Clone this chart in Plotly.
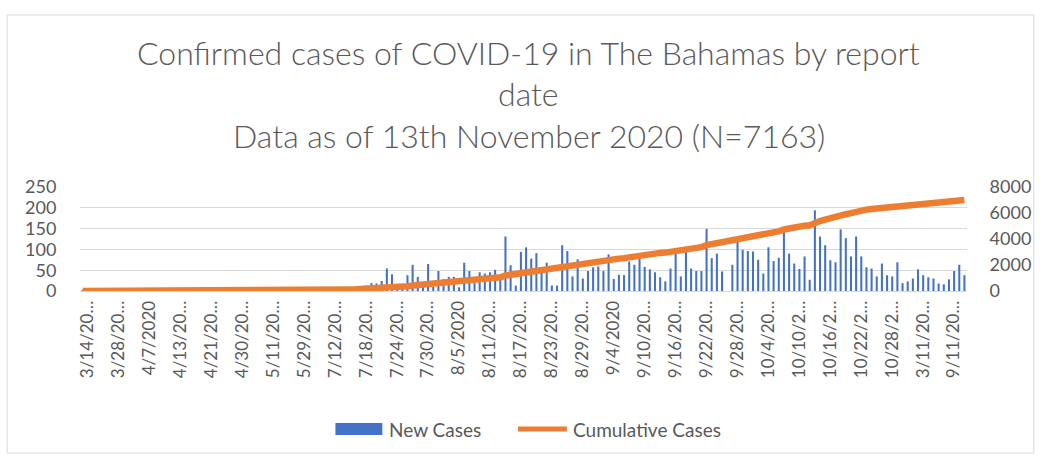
import plotly.graph_objects as go
import pandas as pd
from itertools import accumulate

# ---------------- data ----------------
early_dates = [
    "3/14/2020", "3/15/2020", "3/16/2020", "3/19/2020", "3/20/2020", "3/24/2020",
    "3/28/2020", "3/29/2020", "3/30/2020", "4/1/2020", "4/3/2020", "4/5/2020",
    "4/7/2020", "4/8/2020", "4/9/2020", "4/10/2020", "4/11/2020", "4/12/2020",
    "4/13/2020", "4/14/2020", "4/15/2020", "4/17/2020", "4/18/2020", "4/19/2020",
    "4/21/2020", "4/22/2020", "4/24/2020", "4/25/2020", "4/27/2020", "4/28/2020",
    "4/30/2020", "5/1/2020", "5/3/2020", "5/5/2020", "5/7/2020", "5/9/2020",
    "5/11/2020", "5/14/2020", "5/17/2020", "5/20/2020", "5/23/2020", "5/26/2020",
    "5/29/2020", "6/3/2020", "6/9/2020", "6/16/2020", "6/24/2020", "7/5/2020",
]
daily_dates = [f"{d.month}/{d.day}/{d.year}" for d in pd.date_range("2020-07-12", "2020-10-31")]
november_dates = [f"{d}/11/2020" for d in range(1, 13)]
report_dates = early_dates + daily_dates + november_dates

new_cases = [
    # 3/14 - 7/5
    1, 0, 2, 1, 1, 2, 3, 2, 5, 1, 4, 2, 4, 5, 4, 1, 4, 5, 3, 3, 2, 4, 3, 2,
    1, 4, 2, 1, 3, 2, 1, 2, 0, 1, 1, 0, 1, 1, 0, 1, 2, 1, 1, 1, 1, 2, 1, 3,
    # 7/12 - 7/18
    4, 3, 6, 5, 8, 10, 12,
    # 7/19 - 8/9
    13, 19, 18, 24, 54, 40, 5, 8, 38, 63, 34, 22, 65, 10, 48, 29, 34, 34, 9, 68, 48, 19,
    # 8/10 - 9/1
    45, 42, 45, 51, 28, 131, 62, 13, 94, 105, 78, 91, 50, 68, 13, 13, 110, 96, 35, 76, 30, 48, 57,
    # 9/2 - 9/25
    59, 48, 88, 29, 39, 38, 71, 63, 80, 58, 52, 45, 33, 23, 54, 89, 35, 95, 54, 48, 48, 149, 79, 90,
    # 9/26 - 11/12
    47, 0, 63, 119, 99, 96, 95, 75, 42, 105, 72, 80, 146, 90, 66, 53, 83, 27, 194, 131,
    110, 74, 69, 148, 127, 83, 131, 83, 57, 54, 35, 66, 38, 35, 69, 19, 23, 30, 52, 38,
    33, 30, 18, 16, 28, 48, 63, 38,
]
cumulative_cases = list(accumulate(new_cases))

title_lines = [
    "Confirmed cases of COVID-19 in The Bahamas by report",
    "date",
    "Data as of 13th November 2020 (N=7163)",
]
series_names = ["New Cases", "Cumulative Cases"]

left_ticks = [0, 50, 100, 150, 200, 250]
right_ticks = [0, 2000, 4000, 6000, 8000]


def short_label(s):
    return s if len(s) <= 8 else s[:7] + "\u2026"


# report dates are text categories (some repeat as strings), so place them by position
positions = list(range(len(report_dates)))
tick_pos = positions[::6]
tick_text = [short_label(report_dates[i]) for i in tick_pos]

# ---------------- style ----------------
FONT = "Lato"
GREY = "#595959"
BLUE = "#4472C4"
ORANGE = "#ED7D31"
GRID = "#D9D9D9"

W, H = 1043, 460
PL, PR, PT, PB = 80, 969, 187, 291  # plot area in pixels


def px(x):
    return (x - PL) / (PR - PL)


def py(y):
    return (PB - y) / (PB - PT)


fig = go.Figure()
fig.add_trace(go.Bar(
    x=positions, y=new_cases, name=series_names[0], customdata=report_dates,
    marker=dict(color=BLUE, line=dict(width=0)), yaxis="y",
    hovertemplate="%{customdata}: %{y}<extra></extra>",
))
fig.add_trace(go.Scatter(
    x=positions, y=cumulative_cases, name=series_names[1], mode="lines", customdata=report_dates,
    line=dict(color=ORANGE, width=6.5), yaxis="y2",
    hovertemplate="%{customdata}: %{y}<extra></extra>",
))

annotations = []
for txt, yc in zip(title_lines, [52, 93, 135]):
    annotations.append(dict(
        text=txt, xref="paper", yref="paper", x=px(530), y=py(yc),
        xanchor="center", yanchor="middle", showarrow=False,
        font=dict(family=FONT, size=32, color=GREY, weight=300),
    ))
# legend
annotations.append(dict(text=series_names[0], xref="paper", yref="paper", x=px(388), y=py(429),
                        xanchor="left", yanchor="middle", showarrow=False,
                        font=dict(family=FONT, size=19, color=GREY)))
annotations.append(dict(text=series_names[1], xref="paper", yref="paper", x=px(572), y=py(429),
                        xanchor="left", yanchor="middle", showarrow=False,
                        font=dict(family=FONT, size=19, color=GREY)))

shapes = [
    dict(type="rect", xref="paper", yref="paper", x0=px(336), x1=px(383), y0=py(423), y1=py(435),
         fillcolor=BLUE, line=dict(width=0)),
    dict(type="line", xref="paper", yref="paper", x0=px(519), x1=px(568), y0=py(429), y1=py(429),
         line=dict(color=ORANGE, width=5)),
    dict(type="rect", xref="paper", yref="paper", x0=px(7), x1=px(1036), y0=py(15), y1=py(453),
         line=dict(color=GRID, width=1), fillcolor="rgba(0,0,0,0)", layer="below"),
]

fig.update_layout(
    width=W, height=H, autosize=False,
    margin=dict(l=PL, r=W - PR, t=PT, b=H - PB, pad=0),
    paper_bgcolor="white", plot_bgcolor="white",
    showlegend=False, bargap=0.6,
    font=dict(family=FONT, color=GREY),
    annotations=annotations, shapes=shapes,
    xaxis=dict(
        range=[-0.5, len(report_dates) - 0.5], tickmode="array", tickvals=tick_pos,
        ticktext=tick_text, tickangle=-90, showgrid=False, zeroline=False, showline=False,
        ticks="outside", ticklen=2, tickcolor="rgba(0,0,0,0)",
        tickfont=dict(family=FONT, size=17, color=GREY), ticklabelshift=5,
    ),
    yaxis=dict(
        range=[0, 250], tickmode="array", tickvals=left_ticks, showgrid=True,
        gridcolor=GRID, gridwidth=1.3, zeroline=True, zerolinecolor=GRID, zerolinewidth=1.3,
        showline=False, ticks="outside", ticklen=19, tickcolor="rgba(0,0,0,0)",
        tickfont=dict(family=FONT, size=18, color=GREY),
    ),
    yaxis2=dict(
        range=[0, 8000], tickmode="array", tickvals=right_ticks, overlaying="y", side="right",
        showgrid=False, zeroline=False, showline=False,
        ticks="outside", ticklen=18, tickcolor="rgba(0,0,0,0)",
        tickfont=dict(family=FONT, size=18, color=GREY),
    ),
)

fig.write_html("out.html", config={"displayModeBar": False},
               post_script="document.body.style.margin='0';")
